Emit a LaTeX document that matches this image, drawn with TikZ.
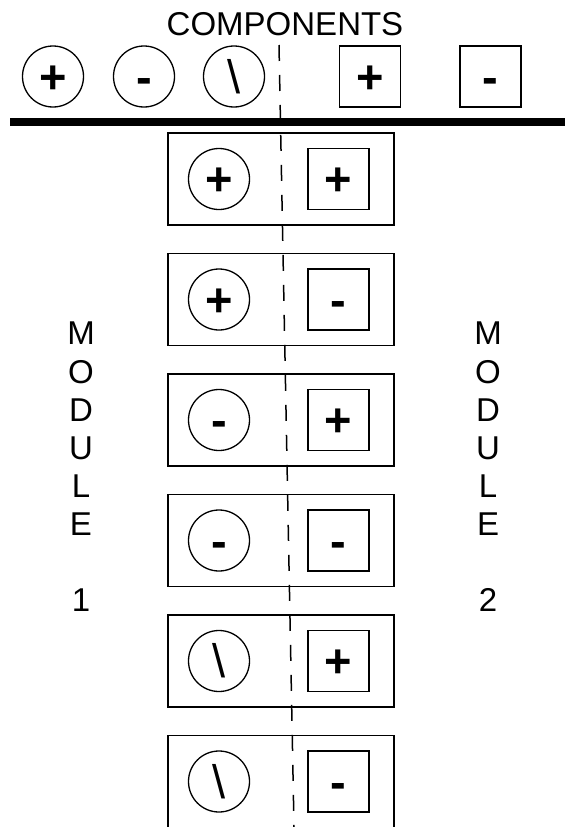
\documentclass[tikz,border=0pt]{standalone}
\usepackage{fontspec}
\setmainfont{Liberation Sans}
\newcommand{\plusmark}{{\bfseries +}}
\newcommand{\minusmark}{{\bfseries -}}
\newcommand{\slashmark}{\textbackslash}
\begin{document}
\begin{tikzpicture}[x=1pt,y=-1pt,
  lbl/.style={font=\fontsize{33}{38.1}\selectfont, inner sep=0pt},
  sym/.style={font=\fontsize{47}{47}\selectfont, text height=33pt, text depth=0pt},
  ring/.style={draw, circle, line width=1.3pt, minimum size=61pt, inner sep=0pt, sym},
  sq/.style={draw, rectangle, line width=1.8pt, minimum size=61pt, inner sep=0pt, sym},
  holder/.style={draw, rectangle, line width=1.8pt, minimum width=226pt, minimum height=92pt, inner sep=0pt},
  axis/.style={line width=1.5pt, dash pattern=on 16pt off 14pt},
  bar/.style={line width=8pt}
]
\useasboundingbox (0,0) rectangle (565,827);

% title
\node[lbl, anchor=base] (title) at (285,35) {COMPONENTS};

% component row
\node[ring] (tc1) at (53,76.5) {\plusmark};
\node[ring] (tc2) at (144,76.5) {\minusmark};
\node[ring] (tc3) at (234,76.5) {\slashmark};
\node[sq] (ts1) at (370,76.5) {\plusmark};
\node[sq] (ts2) at (490.5,76.5) {\minusmark};

% thick separator
\coordinate (hl) at (10,121.5);
\coordinate (hr) at (565,121.5);
\draw[bar] (hl) -- (hr);

% holders
\foreach \i/\c/\s in {1/\plusmark/\plusmark, 2/\plusmark/\minusmark, 3/\minusmark/\plusmark, 4/\minusmark/\minusmark, 5/\slashmark/\plusmark, 6/\slashmark/\minusmark} {
  \pgfmathsetmacro{\yy}{179+120.5*(\i-1)}
  \node[holder] (h\i) at (281,\yy) {};
  \node[ring] (hc\i) at (219,\yy) {\c};
  \node[sq] (hs\i) at (338.5,\yy) {\s};
}

% dashed axis
\coordinate (dtop) at (279,45);
\coordinate (dbot) at (294,827);
\draw[axis] (dtop) -- (dbot);

% module labels
\node[lbl, align=center, anchor=north] (m1) at (81,322) {M\\O\\D\\U\\L\\E\\[38.1pt]1};
\node[lbl, align=center, anchor=north] (m2) at (488,322) {M\\O\\D\\U\\L\\E\\[38.1pt]2};
\end{tikzpicture}
\end{document}
